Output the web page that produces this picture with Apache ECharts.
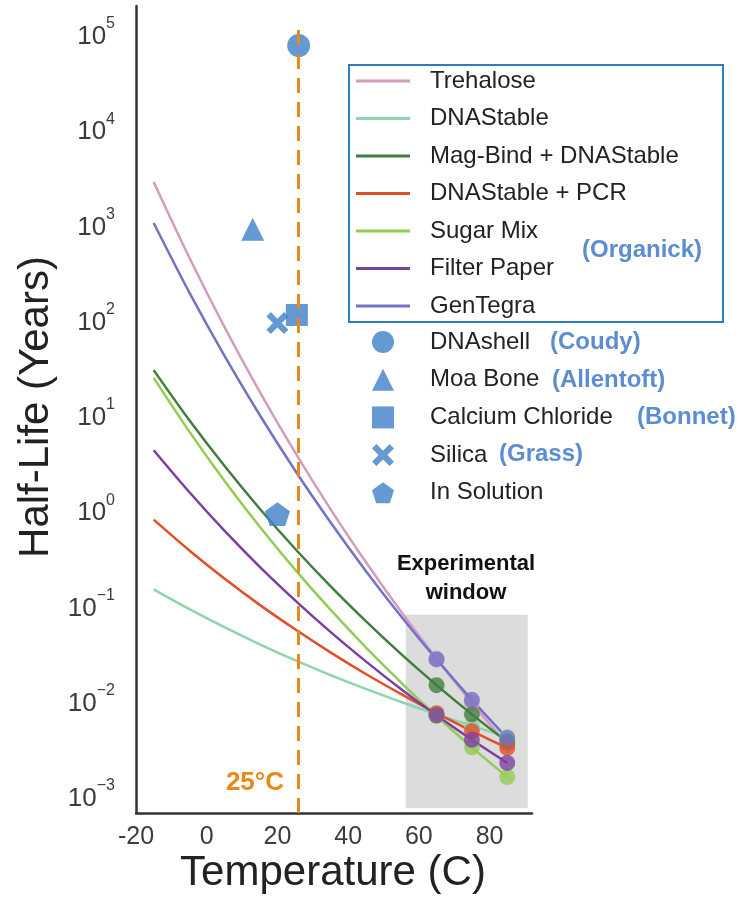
<!DOCTYPE html>
<html><head><meta charset="utf-8">
<script src="https://cdn.jsdelivr.net/npm/echarts@6/dist/echarts.min.js"></script>
<style>html,body{margin:0;padding:0;background:#fff}#c{width:751px;height:897px}</style>
</head><body><div id="c"></div>
<script>
// ---- data ----
const temps = [-15, -5, 5, 15, 25, 35, 45, 55, 65, 75, 85];
const trehalose    = [2660, 434, 80.2, 16.7, 3.86, 0.98, 0.273, 0.0818, 0.0264, 0.00906, 0.0033];
const dnaStable    = [0.141, 0.0877, 0.0564, 0.0373, 0.0254, 0.0177, 0.0127, 0.00925, 0.00687, 0.00519, 0.00398];
const magBind      = [28.2, 8.49, 2.79, 0.989, 0.376, 0.152, 0.0652, 0.0294, 0.0139, 0.00686, 0.00352];
const dnaStablePcr = [0.759, 0.363, 0.183, 0.0968, 0.0536, 0.0307, 0.0182, 0.0112, 0.00706, 0.00458, 0.00304];
const sugarMix     = [23.4, 6.46, 1.95, 0.641, 0.227, 0.0861, 0.0347, 0.0148, 0.00659, 0.00309, 0.00151];
const filterPaper  = [4.07, 1.49, 0.582, 0.243, 0.108, 0.0504, 0.0247, 0.0126, 0.00671, 0.00371, 0.00212];
const genTegra     = [989, 187, 40.0, 9.53, 2.49, 0.713, 0.220, 0.0731, 0.0259, 0.00975, 0.00387];
const lineNames = ['Trehalose', 'DNAStable', 'Mag-Bind + DNAStable', 'DNAStable + PCR', 'Sugar Mix', 'Filter Paper', 'GenTegra'];
const lineValues = [trehalose, dnaStable, magBind, dnaStablePcr, sugarMix, filterPaper, genTegra];
const expTemps = [65, 75, 85];            // measured temperatures (experimental window)

const otherNames = ['DNAshell', 'Moa Bone', 'Calcium Chloride', 'Silica', 'In Solution'];
const otherTemps = [26, 13, 25.5, 20, 20];
const otherHalfLife = [72000, 850, 107, 88, 0.87];
const otherCitations = ['(Coudy)', '(Allentoft)', '(Bonnet)', '(Grass)', ''];
const lineCitation = '(Organick)';

const xTickLabels = [-20, 0, 20, 40, 60, 80];
const yTickExponents = [-3, -2, -1, 0, 1, 2, 3, 4, 5];
const refTemp = 26;
const windowX = [56.3, 90.8];
const windowY = [0.00071, 0.076];

// ---- styles ----
const lineColors = ['#d49cbc', '#8ed4ad', '#3f7e3c', '#df5029', '#92cd52', '#7b3fa2', '#7272c6'];
const markerColor = '#3f7fc8';
const cross = 'path://M2,0 L5,3 L8,0 L10,2 L7,5 L10,8 L8,10 L5,7 L2,10 L0,8 L3,5 L0,2 Z';
const pentagon = 'path://M50,0 L97.6,34.5 L79.4,90.5 L20.6,90.5 L2.4,34.5 Z';
const otherSymbols = ['circle', 'triangle', 'rect', cross, pentagon];
const otherSizes = [23, 23, 22, 22, 25];
const FONT = 'Liberation Sans, Arial, sans-serif';

const chart = echarts.init(document.getElementById('c'), null, {renderer: 'canvas'});
const series = [];
series.push({
  type: 'line', name: '_window', data: [], z: 0, silent: true,
  markArea: { silent: true, itemStyle: {color: '#dcdcdc'},
    data: [[{coord: [windowX[0], windowY[1]]}, {coord: [windowX[1], windowY[0]]}]] }
});
lineNames.forEach((n, i) => {
  series.push({
    type: 'line', name: n, data: temps.map((t, k) => [t, lineValues[i][k]]),
    symbol: 'none', smooth: 0.3, z: 3,
    lineStyle: {color: lineColors[i], width: 2.5}, itemStyle: {color: lineColors[i]}
  });
});
lineNames.forEach((n, i) => {
  const vals = lineValues[i];
  series.push({
    type: 'scatter', name: n + ' (measured)',
    data: expTemps.map(t => [t, vals[temps.indexOf(t)]]),
    symbol: 'circle', symbolSize: 16, z: 3,
    itemStyle: {color: lineColors[i], opacity: 0.78}
  });
});
otherNames.forEach((n, i) => {
  series.push({
    type: 'scatter', name: n, data: [[otherTemps[i], otherHalfLife[i]]],
    symbol: otherSymbols[i], symbolSize: otherSizes[i], symbolKeepAspect: true, z: 4,
    itemStyle: {color: markerColor}
  });
});
series.push({
  type: 'line', name: '_ref', data: [], z: 6, silent: true,
  markLine: { silent: true, symbol: 'none', label: {show: false},
    lineStyle: {color: '#e8891c', width: 3, type: [15, 9]},
    data: [[{coord: [refTemp, 105000]}, {coord: [refTemp, 0.000632]}]] }
});

const graphic = [
  {type: 'rect', shape: {x: 349, y: 65, width: 374, height: 257},
   style: {fill: 'none', stroke: '#2f7bbf', lineWidth: 2}, z: 10},
  {type: 'text', x: 582, y: 250, style: {text: lineCitation, font: 'bold 24px ' + FONT, fill: '#5b8dd0', textVerticalAlign: 'middle'}, z: 10},
  {type: 'text', x: 550, y: 342, style: {text: otherCitations[0], font: 'bold 24px ' + FONT, fill: '#5b8dd0', textVerticalAlign: 'middle'}, z: 10},
  {type: 'text', x: 552, y: 380, style: {text: otherCitations[1], font: 'bold 24px ' + FONT, fill: '#5b8dd0', textVerticalAlign: 'middle'}, z: 10},
  {type: 'text', x: 637, y: 417, style: {text: otherCitations[2], font: 'bold 24px ' + FONT, fill: '#5b8dd0', textVerticalAlign: 'middle'}, z: 10},
  {type: 'text', x: 499, y: 454, style: {text: otherCitations[3], font: 'bold 24px ' + FONT, fill: '#5b8dd0', textVerticalAlign: 'middle'}, z: 10},
  {type: 'text', x: 466, y: 564, style: {text: 'Experimental', font: 'bold 22px ' + FONT, fill: '#111', textAlign: 'center', textVerticalAlign: 'middle'}, z: 10},
  {type: 'text', x: 466, y: 593, style: {text: 'window', font: 'bold 22px ' + FONT, fill: '#111', textAlign: 'center', textVerticalAlign: 'middle'}, z: 10},
  {type: 'text', x: 284, y: 783, style: {text: '25°C', font: 'bold 26px ' + FONT, fill: '#e8891c', textAlign: 'right', textVerticalAlign: 'middle'}, z: 10},
  {type: 'text', x: 333, y: 873, style: {text: 'Temperature (C)', font: '42px ' + FONT, fill: '#222', textAlign: 'center', textVerticalAlign: 'middle'}, z: 10},
  {type: 'text', x: 36, y: 407, rotation: Math.PI / 2, style: {text: 'Half-Life (Years)', font: '42px ' + FONT, fill: '#222', textAlign: 'center', textVerticalAlign: 'middle'}, z: 10}
];

const option = {
  animation: false,
  backgroundColor: '#fff',
  grid: {left: 136, right: 219, top: 6, bottom: 84, containLabel: false},
  xAxis: {
    type: 'value', min: -20, max: 92, interval: 20,
    axisLine: {onZero: false, lineStyle: {color: '#333', width: 2.5}},
    axisTick: {show: false}, splitLine: {show: false},
    axisLabel: {fontSize: 25, color: '#3c3c3c', fontFamily: FONT, margin: 12,
      formatter: v => xTickLabels.includes(v) ? String(v) : ''}
  },
  yAxis: {
    type: 'log', logBase: 10, min: 0.000632, max: 187500,
    axisLine: {show: true, onZero: false, lineStyle: {color: '#333', width: 2.5}},
    axisTick: {show: false}, splitLine: {show: false}, minorTick: {show: false},
    axisLabel: {margin: 21, fontFamily: FONT,
      formatter: v => {
        const l = Math.log10(v), e = Math.round(l);
        if (Math.abs(l - e) > 0.01 || !yTickExponents.includes(e)) return '';
        return '{b|10}{s|' + (e < 0 ? '\u2212' + (-e) : e) + '}';
      },
      rich: {
        b: {fontSize: 26, color: '#3c3c3c', fontFamily: FONT, padding: [10, 0, 0, 0]},
        s: {fontSize: 16, color: '#3c3c3c', fontFamily: FONT, padding: [0, 0, 16, 0]}
      }
    }
  },
  legend: [
    {data: lineNames, orient: 'vertical', left: 356, top: 69, padding: 0,
     icon: 'rect', itemWidth: 54, itemHeight: 3, itemGap: 13.5,
     textStyle: {fontSize: 24, color: '#222', fontFamily: FONT, padding: [0, 0, 0, 15]}},
    {data: otherNames, orient: 'vertical', left: 372, top: 330, padding: 0,
     itemWidth: 22, itemHeight: 22, itemGap: 13.7,
     textStyle: {fontSize: 24, color: '#222', fontFamily: FONT, padding: [0, 0, 0, 31]}}
  ],
  graphic: graphic,
  series: series
};
chart.setOption(option);
</script></body></html>
